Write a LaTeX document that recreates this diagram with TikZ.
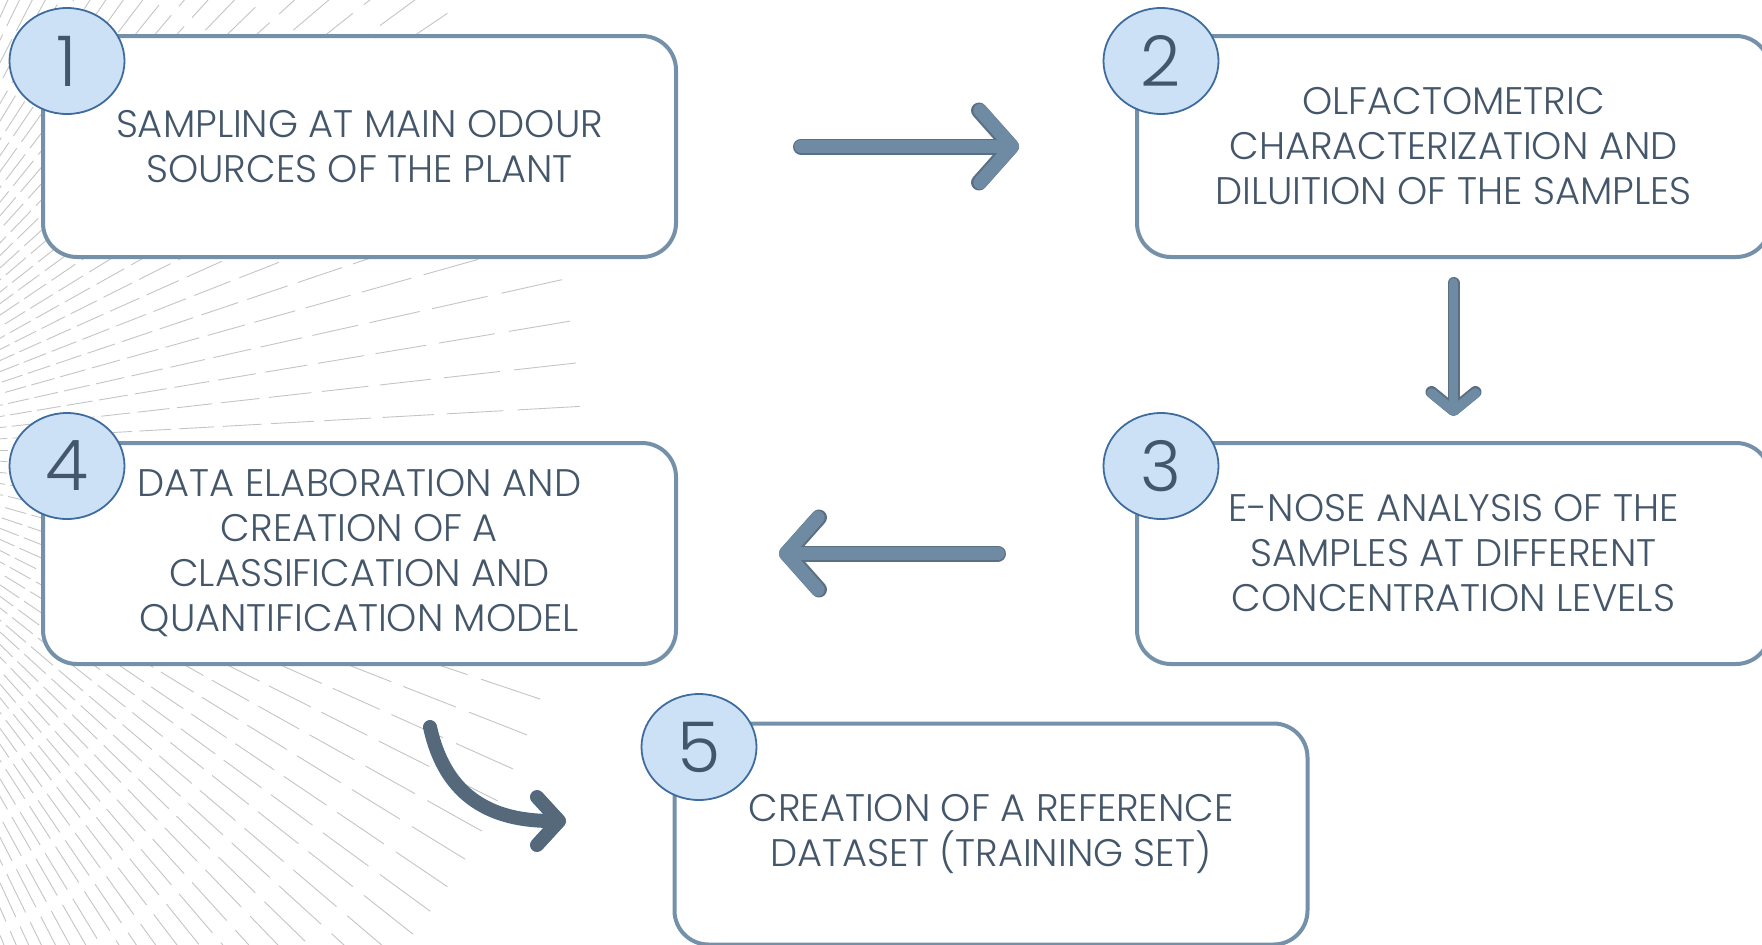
\documentclass[tikz,border=0pt]{standalone}
\usepackage{fontspec}
\IfFontExistsTF{Poppins Light}{\setmainfont{Poppins Light}}{%
  \IfFontExistsTF{Lato Light}{\setmainfont{Lato Light}}{\setmainfont{Poppins}}}
\usetikzlibrary{arrows.meta,shapes.geometric}

\definecolor{boxc}{HTML}{7591A9}
\definecolor{txt}{HTML}{44566A}
\definecolor{badgef}{HTML}{CCE1F6}
\definecolor{badgeb}{HTML}{3F6C9E}
\definecolor{arrf}{HTML}{6F8BA3}
\definecolor{arro}{HTML}{5A6F83}
\definecolor{arrdk}{HTML}{56697B}
\definecolor{arrdko}{HTML}{4F6985}
\definecolor{rayc}{HTML}{C4C4C4}

\tikzset{
  rayline/.style={draw=rayc, line width=0.45pt},
  stepbox/.style={draw=boxc, line width=2pt, rounded corners=17pt, fill=white,
    minimum width=316.5pt, minimum height=110.5pt, align=center, text=txt,
    font=\fontsize{19.2}{22.5}\selectfont},
  badge/.style={ellipse, draw=badgeb, fill=badgef, line width=0.9pt,
    minimum width=57.5pt, minimum height=53pt, inner sep=0pt, text=txt,
    font=\fontsize{35}{35}\selectfont},
  bigtip/.style={-{Straight Barb[length=16pt,width=36pt,round]}},
  smalltip/.style={-{Straight Barb[length=9pt,width=22pt,round]}},
  curvetip/.style={-{Straight Barb[length=11pt,width=24pt,round]}},
  flowedge/.style={draw=arro, line cap=round, line join=round},
  flowfill/.style={draw=arrf, line cap=round, line join=round},
}

\begin{document}
\begin{tikzpicture}[x=0.5pt,y=-0.5pt]
\useasboundingbox (0,0) rectangle (1762,944);

% radial dashes fanning out from a point beyond the left edge;
% rays are wider apart near the horizontal, closer towards the top and bottom
\begin{scope}
  \clip (0,0) rectangle (1762,944);
  \foreach \m in {0, 3.2, 6.4, 9.5, 12.6, 15.7, 18.6, 21.4, 24.1, 26.7, 29.2,
      31.6, 34.0, 36.2, 38.3, 40.4, 42.3, 44.2, 46.0, 47.8, 49.5, 51.1, 52.7,
      54.3, 55.8, 57.2, 58.7, 60.0, 61.4, 62.7, 64.0, 65.2, 66.4, 67.6, 68.8,
      69.9, 71.0}{
    \foreach \sg in {-1,1}{
      \foreach \s/\e in {165.5/183.5, 188/207.8, 213/234.8, 240.3/264.3,
          270.3/296.7, 303.3/332.3, 339.7/371.7, 379.6/414.8, 423.6/462.3,
          471.9/514.5, 525.1/571.9, 583.6/635.1, 647.9/704.5, 718.7/781}{
        \draw[rayline, shift={(-200,450)}] (\sg*\m:\s) -- (\sg*\m:\e);
      }
    }
  }
\end{scope}

% process steps
\node[stepbox] (b1) at (359.5,146.5) {SAMPLING AT MAIN ODOUR\\SOURCES OF THE PLANT};
\node[stepbox] (b2) at (1453.5,146.5) {OLFACTOMETRIC\\CHARACTERIZATION AND\\DILUITION OF THE SAMPLES};
\node[stepbox] (b3) at (1453.5,553.5) {E-NOSE ANALYSIS OF THE\\SAMPLES AT DIFFERENT\\CONCENTRATION LEVELS};
\node[stepbox] (b4) at (359.5,553.5) {DATA ELABORATION AND\\CREATION OF A\\CLASSIFICATION AND\\QUANTIFICATION MODEL};
\node[stepbox] (b5) at (991,834) {CREATION OF A REFERENCE\\DATASET (TRAINING SET)};

% step numbers
\node[badge] (n1) at (67,61) {1};
\node[badge] (n2) at (1161,61) {2};
\node[badge] (n3) at (1161,466) {3};
\node[badge] (n4) at (67,466) {4};
\node[badge] (n5) at (699,747) {5};

% connectors: a darker outline pass, then the fill pass
\draw[flowedge, line width=8pt, bigtip, shorten <=61.5pt, shorten >=58pt] (b1) -- (b2);
\draw[flowfill, line width=6.8pt, bigtip, shorten <=61.5pt, shorten >=58pt] (b1) -- (b2);

\draw[flowedge, line width=6pt, smalltip, shorten <=12pt, shorten >=12.5pt] (b2) -- (b3);
\draw[flowfill, line width=4.9pt, smalltip, shorten <=12pt, shorten >=12.5pt] (b2) -- (b3);

\draw[flowedge, line width=8pt, bigtip, shorten <=68.5pt, shorten >=50.5pt] (b3) -- (b4);
\draw[flowfill, line width=6.8pt, bigtip, shorten <=68.5pt, shorten >=50.5pt] (b3) -- (b4);

\coordinate (s45) at (430,727);
\coordinate (e45) at (566,821);
\draw[draw=arrdko, line width=7pt, line cap=round, curvetip] (s45) .. controls (446,800) and (495,821) .. (e45);
\draw[draw=arrdk, line width=6pt, line cap=round, curvetip] (s45) .. controls (446,800) and (495,821) .. (e45);
\end{tikzpicture}
\end{document}
